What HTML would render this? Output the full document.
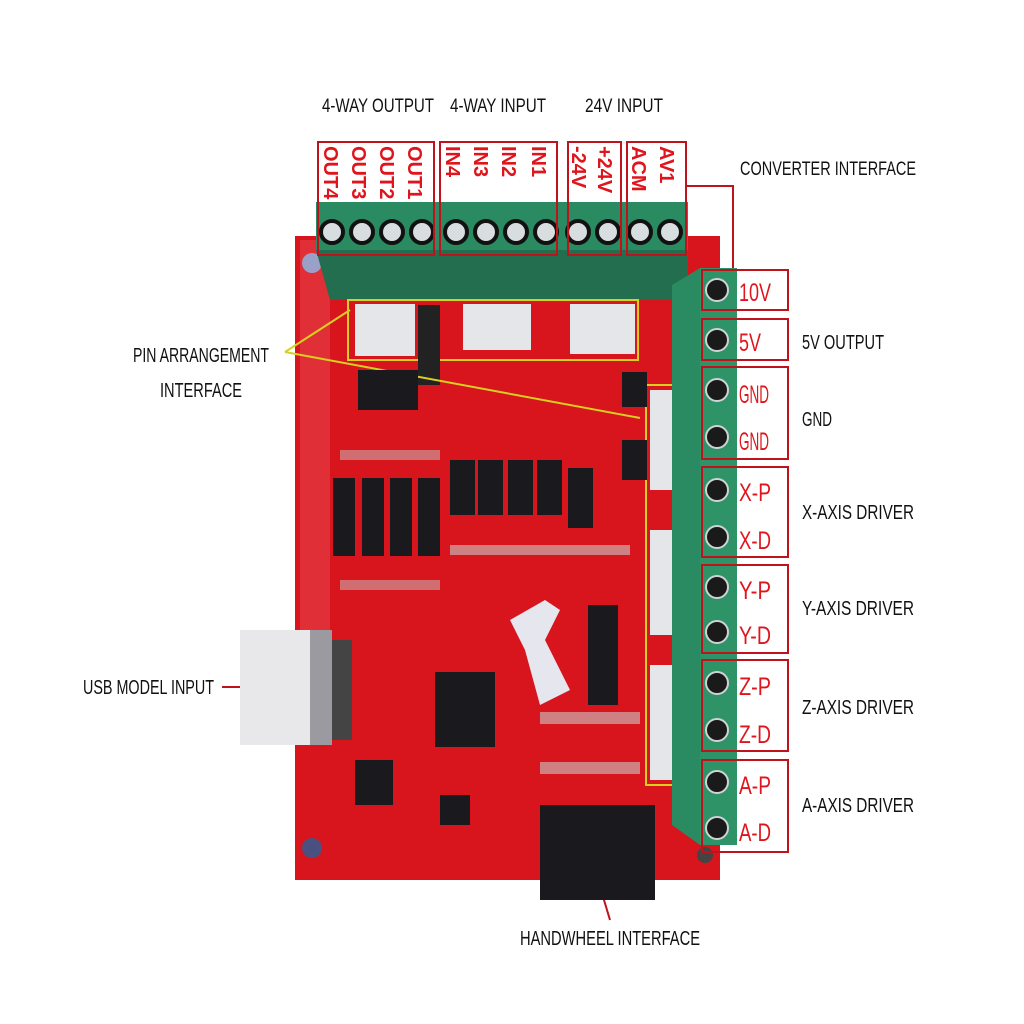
<!DOCTYPE html>
<html><head><meta charset="utf-8"><style>
html,body{margin:0;padding:0;background:#fff;}
svg{display:block}
text{font-family:"Liberation Sans Narrow","Liberation Sans",sans-serif;}
</style></head><body>
<svg width="1024" height="1024" viewBox="0 0 1024 1024" xmlns="http://www.w3.org/2000/svg">
<rect width="1024" height="1024" fill="#fff"/>
<rect x="295" y="236" width="425" height="644" fill="#d8141c"/>
<rect x="300" y="240" width="30" height="400" fill="#e84a50" opacity="0.5"/>
<circle cx="312" cy="263" r="10" fill="#9aa0c8"/>
<circle cx="312" cy="848" r="10" fill="#4a5080"/>
<circle cx="705" cy="855" r="8" fill="#444"/>
<rect x="316" y="202" width="372" height="50" fill="#2a8a62"/>
<path d="M316 250 L688 250 L688 300 L330 300 Z" fill="#226e4e"/>
<g fill="#d8dde0" stroke="#111" stroke-width="4">
<circle cx="332" cy="232" r="11"/><circle cx="362" cy="232" r="11"/><circle cx="392" cy="232" r="11"/><circle cx="422" cy="232" r="11"/>
<circle cx="456" cy="232" r="11"/><circle cx="486" cy="232" r="11"/><circle cx="516" cy="232" r="11"/><circle cx="546" cy="232" r="11"/>
<circle cx="578" cy="232" r="11"/><circle cx="608" cy="232" r="11"/><circle cx="640" cy="232" r="11"/><circle cx="670" cy="232" r="11"/>
</g>
<g fill="none" stroke="#c0121c" stroke-width="2">
<rect x="318" y="142" width="116" height="113"/><rect x="440" y="142" width="117" height="113"/>
<rect x="568" y="142" width="53" height="113"/><rect x="627" y="142" width="59" height="113"/>
</g>
<g fill="#e0141c" font-size="20" font-weight="bold">
<text transform="translate(408,146) rotate(90)">OUT1</text>
<text transform="translate(380,146) rotate(90)">OUT2</text>
<text transform="translate(352,146) rotate(90)">OUT3</text>
<text transform="translate(324,146) rotate(90)">OUT4</text>
<text transform="translate(532,146) rotate(90)">IN1</text>
<text transform="translate(502,146) rotate(90)">IN2</text>
<text transform="translate(474,146) rotate(90)">IN3</text>
<text transform="translate(446,146) rotate(90)">IN4</text>
<text transform="translate(598,146) rotate(90)">+24V</text>
<text transform="translate(572,146) rotate(90)">-24V</text>
<text transform="translate(660,146) rotate(90)">AV1</text>
<text transform="translate(632,146) rotate(90)">ACM</text>
</g>
<g fill="#111" font-size="19">
<text x="322" y="112" textLength="112" lengthAdjust="spacingAndGlyphs">4-WAY OUTPUT</text>
<text x="450" y="112" textLength="96" lengthAdjust="spacingAndGlyphs">4-WAY INPUT</text>
<text x="585" y="112" textLength="78" lengthAdjust="spacingAndGlyphs">24V INPUT</text>
<text x="740" y="175" textLength="176" lengthAdjust="spacingAndGlyphs">CONVERTER INTERFACE</text>
</g>
<polyline points="686,186 733,186 733,268" fill="none" stroke="#c0121c" stroke-width="2"/>
<rect x="348" y="300" width="290" height="60" fill="none" stroke="#d8d020" stroke-width="2"/>
<rect x="355" y="304" width="60" height="52" fill="#e4e6ea"/>
<rect x="463" y="304" width="68" height="46" fill="#e4e6ea"/>
<rect x="570" y="304" width="65" height="50" fill="#e4e6ea"/>
<rect x="418" y="305" width="22" height="80" fill="#222"/>
<rect x="646" y="385" width="30" height="400" fill="none" stroke="#d8d020" stroke-width="2"/>
<rect x="650" y="390" width="26" height="100" fill="#e4e6ea"/>
<rect x="650" y="530" width="26" height="105" fill="#e4e6ea"/>
<rect x="650" y="665" width="26" height="115" fill="#e4e6ea"/>
<line x1="285" y1="352" x2="350" y2="310" stroke="#d8d020" stroke-width="2"/>
<line x1="285" y1="352" x2="640" y2="418" stroke="#d8d020" stroke-width="2"/>
<path d="M672 285 L700 268 L737 268 L737 845 L700 845 L672 825 Z" fill="#2a8a62"/>
<rect x="700" y="268" width="37" height="577" fill="#2e9468"/>
<g fill="#1a1a1a" stroke="#cfd3d6" stroke-width="2">
<circle cx="717" cy="290" r="11"/><circle cx="717" cy="340" r="11"/>
<circle cx="717" cy="390" r="11"/><circle cx="717" cy="437" r="11"/>
<circle cx="717" cy="490" r="11"/><circle cx="717" cy="537" r="11"/>
<circle cx="717" cy="587" r="11"/><circle cx="717" cy="632" r="11"/>
<circle cx="717" cy="683" r="11"/><circle cx="717" cy="730" r="11"/>
<circle cx="717" cy="782" r="11"/><circle cx="717" cy="828" r="11"/>
</g>
<rect x="737" y="268" width="51" height="584" fill="#fff"/>
<g fill="none" stroke="#c0121c" stroke-width="2">
<rect x="702" y="270" width="86" height="40"/><rect x="702" y="319" width="86" height="41"/>
<rect x="702" y="367" width="86" height="92"/><rect x="702" y="467" width="86" height="90"/>
<rect x="702" y="565" width="86" height="88"/><rect x="702" y="660" width="86" height="91"/>
<rect x="702" y="760" width="86" height="92"/>
</g>
<g fill="#e0141c" font-size="25" lengthAdjust="spacingAndGlyphs">
<text x="739" y="301" textLength="32" lengthAdjust="spacingAndGlyphs">10V</text>
<text x="739" y="351" textLength="22" lengthAdjust="spacingAndGlyphs">5V</text>
<text x="739" y="403" textLength="30" lengthAdjust="spacingAndGlyphs">GND</text>
<text x="739" y="450" textLength="30" lengthAdjust="spacingAndGlyphs">GND</text>
<text x="739" y="501" textLength="32" lengthAdjust="spacingAndGlyphs">X-P</text>
<text x="739" y="549" textLength="32" lengthAdjust="spacingAndGlyphs">X-D</text>
<text x="739" y="599" textLength="32" lengthAdjust="spacingAndGlyphs">Y-P</text>
<text x="739" y="644" textLength="32" lengthAdjust="spacingAndGlyphs">Y-D</text>
<text x="739" y="695" textLength="32" lengthAdjust="spacingAndGlyphs">Z-P</text>
<text x="739" y="743" textLength="32" lengthAdjust="spacingAndGlyphs">Z-D</text>
<text x="739" y="794" textLength="32" lengthAdjust="spacingAndGlyphs">A-P</text>
<text x="739" y="841" textLength="32" lengthAdjust="spacingAndGlyphs">A-D</text>
</g>
<g fill="#111" font-size="20">
<text x="802" y="349" textLength="82" lengthAdjust="spacingAndGlyphs">5V OUTPUT</text>
<text x="802" y="426" textLength="30" lengthAdjust="spacingAndGlyphs">GND</text>
<text x="802" y="519" textLength="112" lengthAdjust="spacingAndGlyphs">X-AXIS DRIVER</text>
<text x="802" y="615" textLength="112" lengthAdjust="spacingAndGlyphs">Y-AXIS DRIVER</text>
<text x="802" y="714" textLength="112" lengthAdjust="spacingAndGlyphs">Z-AXIS DRIVER</text>
<text x="802" y="812" textLength="112" lengthAdjust="spacingAndGlyphs">A-AXIS DRIVER</text>
<text x="133" y="362" textLength="136" lengthAdjust="spacingAndGlyphs">PIN ARRANGEMENT</text>
<text x="160" y="397" textLength="82" lengthAdjust="spacingAndGlyphs">INTERFACE</text>
<text x="83" y="694" textLength="131" lengthAdjust="spacingAndGlyphs">USB MODEL INPUT</text>
<text x="520" y="945" textLength="180" lengthAdjust="spacingAndGlyphs">HANDWHEEL INTERFACE</text>
</g>
<line x1="222" y1="687" x2="242" y2="687" stroke="#c0121c" stroke-width="2"/>
<line x1="598" y1="880" x2="610" y2="920" stroke="#c0121c" stroke-width="2"/>
<g fill="#1a1a1e">
<rect x="358" y="370" width="60" height="40"/>
<rect x="333" y="478" width="22" height="78"/><rect x="362" y="478" width="22" height="78"/>
<rect x="390" y="478" width="22" height="78"/><rect x="418" y="478" width="22" height="78"/>
<rect x="450" y="460" width="25" height="55"/><rect x="478" y="460" width="25" height="55"/>
<rect x="508" y="460" width="25" height="55"/><rect x="537" y="460" width="25" height="55"/>
<rect x="568" y="468" width="25" height="60"/>
<rect x="588" y="605" width="30" height="100"/>
<rect x="435" y="672" width="60" height="75"/>
<rect x="355" y="760" width="38" height="45"/>
<rect x="440" y="795" width="30" height="30"/>
<rect x="622" y="372" width="25" height="35"/><rect x="622" y="440" width="25" height="40"/>
<rect x="540" y="805" width="115" height="95"/>
</g>
<g fill="#c8c8c8">
<rect x="450" y="545" width="180" height="10" opacity="0.6"/>
<rect x="540" y="712" width="100" height="12" opacity="0.6"/>
<rect x="540" y="762" width="100" height="12" opacity="0.6"/>
<rect x="340" y="450" width="100" height="10" opacity="0.5"/>
<rect x="340" y="580" width="100" height="10" opacity="0.5"/>
</g>
<path d="M510 620 L545 600 L560 610 L545 640 L570 690 L540 705 L525 650 Z" fill="#e6e6ee"/>
<rect x="240" y="630" width="72" height="115" fill="#e8e8ea"/>
<rect x="310" y="630" width="22" height="115" fill="#9a9aa0"/>
<rect x="332" y="640" width="20" height="100" fill="#444"/>
</svg>
</body></html>
